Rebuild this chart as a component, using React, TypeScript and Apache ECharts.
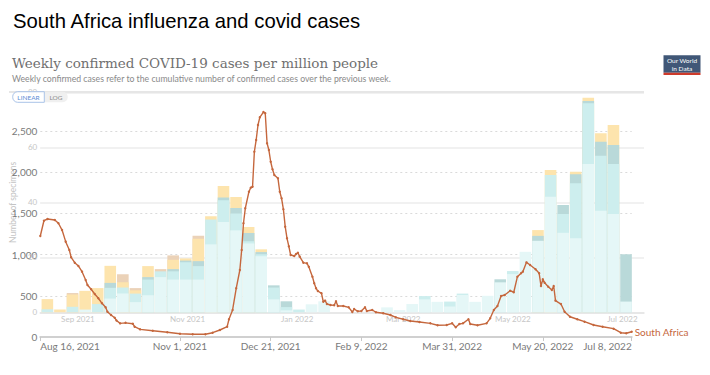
import React, { useEffect, useRef } from 'react';
import * as echarts from 'echarts';

// ---- COVID weekly confirmed cases per million (South Africa) ----
const covidDates = [
  '2021-08-16','2021-08-18','2021-08-20','2021-08-24','2021-08-26','2021-08-28','2021-08-30','2021-09-01','2021-09-02','2021-09-04',
  '2021-09-06','2021-09-08','2021-09-10','2021-09-11','2021-09-13','2021-09-15','2021-09-17','2021-09-19','2021-09-21','2021-09-22',
  '2021-09-24','2021-09-26','2021-09-27','2021-09-29','2021-10-02','2021-10-06','2021-10-07','2021-10-10','2021-10-17','2021-10-25',
  '2021-11-01','2021-11-08','2021-11-15','2021-11-19','2021-11-23','2021-11-27','2021-11-28','2021-11-30','2021-12-02','2021-12-04',
  '2021-12-05','2021-12-06','2021-12-07','2021-12-09','2021-12-10','2021-12-11','2021-12-12','2021-12-13','2021-12-14','2021-12-15',
  '2021-12-17','2021-12-18','2021-12-19','2021-12-20','2021-12-21','2021-12-22','2021-12-23','2021-12-25','2021-12-26','2021-12-27',
  '2021-12-28','2021-12-29','2021-12-30','2021-12-31','2022-01-01','2022-01-03','2022-01-04','2022-01-05','2022-01-06','2022-01-08',
  '2022-01-10','2022-01-11','2022-01-13','2022-01-14','2022-01-15','2022-01-16','2022-01-18','2022-01-19','2022-01-20','2022-01-21',
  '2022-01-23','2022-01-25','2022-01-26','2022-01-27','2022-01-30','2022-02-02','2022-02-04','2022-02-05','2022-02-07','2022-02-09',
  '2022-02-11','2022-02-12','2022-02-15','2022-02-17','2022-02-21','2022-02-25','2022-02-28','2022-03-04','2022-03-08','2022-03-13',
  '2022-03-19','2022-03-23','2022-03-28','2022-03-31','2022-04-02','2022-04-04','2022-04-06','2022-04-09','2022-04-10','2022-04-14',
  '2022-04-19','2022-04-21','2022-04-23','2022-04-25','2022-04-27','2022-04-29','2022-05-02','2022-05-04','2022-05-06','2022-05-08',
  '2022-05-09','2022-05-11','2022-05-13','2022-05-16','2022-05-18','2022-05-19','2022-05-20','2022-05-21','2022-05-23','2022-05-25',
  '2022-05-26','2022-05-27','2022-05-30','2022-06-01','2022-06-04','2022-06-08','2022-06-12','2022-06-17','2022-06-22','2022-06-28',
  '2022-07-02','2022-07-05','2022-07-08'
];
const covidValues = [
  1226,1411,1432,1420,1380,1298,1157,1056,967,902,
  862,793,692,631,579,522,470,409,360,307,
  267,234,200,165,172,160,125,93,76,57,
  40,33,33,52,85,125,215,328,591,813,
  1056,1380,1562,1763,1812,1824,2249,2391,2573,2666,
  2730,2715,2351,2269,2127,2035,1966,1926,1763,1683,
  1550,1339,1198,1100,995,983,1007,1023,975,902,
  894,853,732,652,591,558,530,428,441,400,
  388,385,433,376,376,360,303,340,312,316,
  360,316,328,300,288,267,239,215,194,182,
  166,142,146,166,118,158,166,215,158,142,
  166,227,328,376,498,510,562,543,732,773,
  793,906,874,822,773,619,700,659,610,570,
  619,441,400,307,246,215,186,146,125,101,
  52,45,64
];

// ---- Influenza specimens per week (stacked, bottom to top) ----
const weekDates = [
  '2021-08-15','2021-08-22','2021-08-29','2021-09-05','2021-09-12','2021-09-19','2021-09-26','2021-10-03','2021-10-10','2021-10-17',
  '2021-10-24','2021-10-31','2021-11-07','2021-11-14','2021-11-21','2021-11-28','2021-12-05','2021-12-12','2021-12-19','2021-12-26',
  '2022-01-02','2022-01-09','2022-01-16','2022-01-23','2022-01-30','2022-02-06','2022-02-13','2022-02-20','2022-02-27','2022-03-06',
  '2022-03-13','2022-03-20','2022-03-27','2022-04-03','2022-04-10','2022-04-17','2022-04-24','2022-05-01','2022-05-08','2022-05-15',
  '2022-05-22','2022-05-29','2022-06-05','2022-06-12','2022-06-19','2022-06-26','2022-07-03'
];
const fluPaleCyan = [
  0,0,0,1,0,5,6.8,3.7,6.2,12.8,
  11.9,11.9,11.9,24.7,32.8,29.8,25,20.4,4.7,0.7,
  0,2.9,4,0,0,0,0,1.8,0.8,3,
  4.7,3.8,2.1,6.3,3.8,6,10.9,13.9,22,26,
  42,28.9,26.9,53.9,36.9,35.7,3.9
];
const fluCyan = [
  1.1,0,2,0,3,3.9,2.2,3.1,5.7,2.1,
  3,6.3,4.9,9,7.9,6.1,0.8,0.7,4.3,1.2,
  1,0,0,0,0,0,0,0,0,0,
  1.2,0,1.8,0.5,0,0,0,1.1,0,0,
  7.9,6.8,20,22.1,20,18.2,0
];
const fluTeal = [
  0,0,0,0,0,1.8,0,0,0.9,0,
  0.8,0.6,1.8,0,1,2,3,0.8,0.8,2.1,
  0,0,0,0,0,0,0,0,0,0,
  0,0,0,0,0,0,1.1,0,0,1.8,
  0,3.3,3.3,0.8,5.1,6.9,17.2
];
const fluYellow = [
  3.7,1,4.5,6.8,5.8,6.2,1.9,1.2,4,0,
  3.4,0.8,8.1,1.2,4.2,4,2.2,1,0,0,
  0,0,0,0,0,0,0,0,0,0,
  0,0,0,0,0,0,0,0,0,2.1,
  1.8,0,0.9,1.2,3.1,7.3,0
];
const fluTan = [
  0,0,0.5,0,0,0,2.9,0.8,0,0.8,
  1.6,0,1.1,0,0,0,0,0,0,0,
  0,0,0,0,0,0,0,0,0,0,
  0,0,0,0,0,0,0,0,0,0,
  0,0,0,0,0,0,0
];

const covidXTicks = ['2021-08-16','2021-11-01','2021-12-21','2022-02-09','2022-03-31','2022-05-20','2022-07-08'];
const fluXTicks = ['2021-09-01','2021-11-01','2022-01-01','2022-03-01','2022-05-01','2022-07-01'];

const MONTHS = ['Jan','Feb','Mar','Apr','May','Jun','Jul','Aug','Sep','Oct','Nov','Dec'];
function toTime(s: string): number {
  const [y, m, d] = s.split('-').map(Number);
  return new Date(y, m - 1, d).getTime();
}

export default function App() {
  const ref = useRef<HTMLDivElement>(null);
  useEffect(() => {
    if (!ref.current) return;
    const chart = echarts.init(ref.current, undefined, { renderer: 'svg' });
    const layers = [
      { name: 'pale', data: fluPaleCyan, color: '#e5f7f7' },
      { name: 'cyan', data: fluCyan, color: '#cdeeee' },
      { name: 'teal', data: fluTeal, color: '#b9d9d9' },
      { name: 'yellow', data: fluYellow, color: '#fde4ad' },
      { name: 'tan', data: fluTan, color: '#ebd2b8' },
    ];
    // cumulative tops of each stacked segment, drawn topmost-first so lower segments overlay
    const barSeries = layers
      .map((s, li) => ({
        name: s.name,
        type: 'bar',
        xAxisIndex: 1,
        yAxisIndex: 1,
        barWidth: 11.6,
        barGap: '-100%',
        itemStyle: { color: s.color },
        data: weekDates.map((d, i) => {
          let top = 0;
          for (let k = 0; k <= li; k++) top += layers[k].data[i];
          return [toTime(d), layers[li].data[i] > 0 ? top : 0];
        }),
        z: 2,
      }))
      .reverse();

    const option: any = {
      animation: false,
      backgroundColor: '#ffffff',
      title: [
        {
          text: 'South Africa influenza and covid cases',
          left: 13, top: 11, padding: 0,
          textStyle: { fontFamily: '"Liberation Sans", sans-serif', fontSize: 20.3, fontWeight: 'normal', color: '#000' },
        },
        {
          text: 'Weekly confirmed COVID-19 cases per million people',
          left: 12, top: 56, padding: 0,
          textStyle: { fontFamily: '"DejaVu Serif", serif', fontSize: 13.5, fontWeight: 'normal', color: '#707070' },
        },
        {
          text: 'Weekly confirmed cases refer to the cumulative number of confirmed cases over the previous week.',
          left: 12, top: 73.5, padding: 0,
          textStyle: { fontFamily: 'Lato, sans-serif', fontSize: 8.7, fontWeight: 'normal', color: '#8a8a8a' },
        },
      ],
      grid: [
        { left: 40.3, top: 89.8, width: 591.4, height: 247.2 },
        { left: 40, top: 92.3, width: 604, height: 220 },
      ],
      xAxis: [
        {
          gridIndex: 0, type: 'value',
          min: toTime('2021-08-16'), max: toTime('2022-07-08'),
          axisLine: { show: true, lineStyle: { color: '#d0d0d0', width: 2 } },
          axisTick: { show: true, customValues: covidXTicks.map(toTime), length: 4, lineStyle: { color: '#c8c8c8' } },
          axisLabel: {
            customValues: covidXTicks.map(toTime),
            formatter: (v: number) => {
              const d = new Date(v);
              return `${MONTHS[d.getMonth()]} ${d.getDate()}, ${d.getFullYear()}`;
            },
            fontFamily: 'Lato, sans-serif', fontSize: 10, color: '#7a7a7a', margin: 4,
            alignMinLabel: 'left', alignMaxLabel: 'right',
          },
          splitLine: { show: false },
        },
        {
          gridIndex: 1, type: 'value',
          min: toTime('2021-08-11'), max: toTime('2022-07-13'),
          axisLine: { show: true, lineStyle: { color: '#e4e4e4', width: 1.5 } },
          axisTick: { show: false },
          axisLabel: {
            customValues: fluXTicks.map(toTime),
            formatter: (v: number) => {
              const d = new Date(v);
              return `${MONTHS[d.getMonth()]} ${d.getFullYear()}`;
            },
            fontFamily: 'Lato, sans-serif', fontSize: 8, color: '#c6c6c6', margin: 3,
          },
          splitLine: { show: false },
        },
      ],
      yAxis: [
        {
          gridIndex: 0, type: 'value', min: 0, max: 3000, interval: 500,
          axisLine: { show: false }, axisTick: { show: false },
          axisLabel: {
            formatter: (v: number) => (v >= 3000 ? '' : v.toLocaleString('en-US')),
            fontFamily: 'Lato, sans-serif', fontSize: 10, color: '#7a7a7a', margin: 3,
          },
          splitLine: { show: true, showMaxLine: false, showMinLine: false, lineStyle: { type: [2, 3], color: '#dadada', width: 1 } },
        },
        {
          gridIndex: 1, type: 'value', min: 0, max: 80, interval: 20,
          name: 'Number of specimens', nameLocation: 'middle', nameRotate: 90, nameGap: 23,
          nameTextStyle: { fontFamily: 'Lato, sans-serif', fontSize: 8.5, color: '#c4c4c4' },
          axisLine: { show: false }, axisTick: { show: false },
          axisLabel: { fontFamily: 'Lato, sans-serif', fontSize: 8, color: '#c6c6c6', margin: 3 },
          splitLine: { show: true, lineStyle: { color: '#ececec', width: 1.5 } },
        },
      ],
      series: [
        ...barSeries,
        {
          name: 'South Africa', type: 'line', xAxisIndex: 0, yAxisIndex: 0,
          data: covidDates.map((d, i) => [toTime(d), covidValues[i]]),
          symbol: 'circle', symbolSize: 2.4, showSymbol: true,
          lineStyle: { color: '#c5673d', width: 1.4 },
          itemStyle: { color: '#c5673d' },
          endLabel: { show: true, formatter: 'South Africa', color: '#c5673d', fontFamily: 'Lato, sans-serif', fontSize: 10, distance: 3 },
          z: 5,
        },
      ],
      graphic: [
        { type: 'line', shape: { x1: 9, y1: 92, x2: 644, y2: 92 }, style: { stroke: '#e6e6e6', lineWidth: 2 }, z: 1 },
        { type: 'rect', shape: { x: 44.3, y: 91.7, width: 23.4, height: 10.6, r: [0, 5, 5, 0] }, style: { fill: 'rgba(238,238,238,0.9)' }, z: 10 },
        { type: 'rect', shape: { x: 12.7, y: 91.7, width: 31.6, height: 10.6, r: [5, 0, 0, 5] }, style: { fill: 'rgba(255,255,255,0.85)', stroke: '#a9c3e8', lineWidth: 1 }, z: 11 },
        { type: 'text', x: 28.5, y: 97, style: { text: 'LINEAR', fill: '#5b8bd4', fontSize: 6.5, fontFamily: 'Lato, sans-serif', align: 'center', verticalAlign: 'middle' }, z: 12 },
        { type: 'text', x: 56, y: 97, style: { text: 'LOG', fill: '#8a8a8a', fontSize: 6.5, fontFamily: 'Lato, sans-serif', align: 'center', verticalAlign: 'middle' }, z: 12 },
        { type: 'rect', shape: { x: 663.5, y: 55.3, width: 37, height: 17.4 }, style: { fill: '#405777' }, z: 10 },
        { type: 'rect', shape: { x: 663.5, y: 72.7, width: 37, height: 2.4 }, style: { fill: '#ce3b2b' }, z: 10 },
        { type: 'text', x: 682, y: 60.8, style: { text: 'Our World', fill: '#ffffff', fontSize: 6.5, fontFamily: 'Lato, sans-serif', align: 'center', verticalAlign: 'middle' }, z: 11 },
        { type: 'text', x: 682, y: 68.2, style: { text: 'in Data', fill: '#ffffff', fontSize: 6.5, fontFamily: 'Lato, sans-serif', align: 'center', verticalAlign: 'middle' }, z: 11 },
      ],
    };
    chart.setOption(option);
    return () => chart.dispose();
  }, []);
  return <div ref={ref} style={{ position: 'fixed', left: 0, top: 0, width: 710, height: 375 }} />;
}
